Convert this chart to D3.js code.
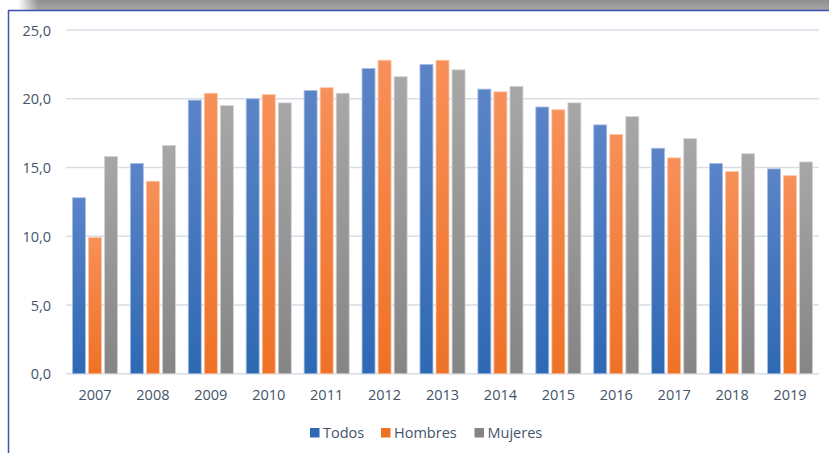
<!DOCTYPE html>
<html>
<head>
<meta charset="utf-8">
<script src="https://cdn.jsdelivr.net/npm/d3@7"></script>
<style>
  body { margin: 0; background: #fff; }
  svg { display: block; }
  text { font-family: "Open Sans", sans-serif; fill: #44546a; }
</style>
</head>
<body>
<svg id="chart"></svg>
<script>
// Data
const years = ['2007', '2008', '2009', '2010', '2011', '2012', '2013', '2014', '2015', '2016', '2017', '2018', '2019'];
const series = ['Todos', 'Hombres', 'Mujeres'];
const todos = [12.8, 15.3, 19.9, 20.0, 20.6, 22.2, 22.5, 20.7, 19.4, 18.1, 16.4, 15.3, 14.9];
const hombres = [9.9, 14.0, 20.4, 20.3, 20.8, 22.8, 22.8, 20.5, 19.2, 17.4, 15.7, 14.7, 14.4];
const mujeres = [15.8, 16.6, 19.5, 19.7, 20.4, 21.6, 22.1, 20.9, 19.7, 18.7, 17.1, 16.0, 15.4];
const yTicks = [0, 5, 10, 15, 20, 25];

const values = { Todos: todos, Hombres: hombres, Mujeres: mujeres };
const colors = {
  Todos: { top: '#5b84c7', bottom: '#2e69b3', edge: '#a9c0e6' },
  Hombres: { top: '#f79059', bottom: '#ee7226', edge: '#fbc4a4' },
  Mujeres: { top: '#a7a7a7', bottom: '#858585', edge: '#d2d2d2' }
};

const W = 829, H = 453;
const svg = d3.select('#chart').attr('width', W).attr('height', H);
const defs = svg.append('defs');

// Frame: grey band on top with a fade at the left, blue border
const band = defs.append('linearGradient').attr('id', 'band')
  .attr('x1', 0).attr('y1', 0).attr('x2', 0).attr('y2', 1);
band.append('stop').attr('offset', 0).attr('stop-color', '#8e8e8e');
band.append('stop').attr('offset', 1).attr('stop-color', '#a6a6a6');
const fade = defs.append('linearGradient').attr('id', 'fade')
  .attr('x1', 0).attr('y1', 0).attr('x2', 1).attr('y2', 0);
fade.append('stop').attr('offset', 0).attr('stop-color', '#fff').attr('stop-opacity', 1);
fade.append('stop').attr('offset', 1).attr('stop-color', '#fff').attr('stop-opacity', 0);

svg.append('rect').attr('x', 0).attr('y', 0).attr('width', W).attr('height', 10).attr('fill', 'url(#band)');
svg.append('rect').attr('x', 0).attr('y', 0).attr('width', 18).attr('height', 10).attr('fill', '#fff');
svg.append('rect').attr('x', 18).attr('y', 0).attr('width', 20).attr('height', 10).attr('fill', 'url(#fade)');
svg.append('line').attr('x1', 8).attr('x2', W).attr('y1', 10.5).attr('y2', 10.5)
  .attr('stroke', '#3f51b0').attr('stroke-width', 1.5);
svg.append('line').attr('x1', 8.5).attr('x2', 8.5).attr('y1', 10).attr('y2', H)
  .attr('stroke', '#3f51b0').attr('stroke-width', 1.5);

// Scales
const x = d3.scaleBand().domain(years).range([66, 819]);
const xs = d3.scaleBand().domain(series).range([0, x.bandwidth()])
  .paddingInner(0.19).paddingOuter(0.4);
const y = d3.scaleLinear().domain([0, 25]).range([373.75, 30]);

// Gridlines
svg.append('g').selectAll('line').data(yTicks).join('line')
  .attr('x1', 66).attr('x2', 819)
  .attr('y1', d => y(d)).attr('y2', d => y(d))
  .attr('stroke', '#d9dee6').attr('stroke-width', 1.5);

// Y axis labels
const yAxis = svg.append('g').attr('transform', 'translate(51,0)')
  .call(d3.axisLeft(y).tickValues(yTicks).tickSize(0).tickPadding(0)
    .tickFormat(d => d3.format('.1f')(d).replace('.', ',')));
yAxis.select('.domain').remove();
yAxis.selectAll('text').attr('font-size', 14.5).attr('font-family', '"Open Sans", sans-serif')
  .attr('fill', '#44546a').attr('dy', '0.35em');

// X axis labels
const xAxis = svg.append('g').attr('transform', 'translate(0,374)')
  .call(d3.axisBottom(x).tickSize(0).tickPadding(0));
xAxis.select('.domain').remove();
xAxis.selectAll('text').attr('font-size', 14.5).attr('font-family', '"Open Sans", sans-serif')
  .attr('fill', '#44546a').attr('y', 21).attr('dy', '0.35em');

// Gradients per series
series.forEach(s => {
  const g = defs.append('linearGradient').attr('id', 'grad-' + s)
    .attr('x1', 0).attr('y1', 0).attr('x2', 0).attr('y2', 1);
  g.append('stop').attr('offset', 0).attr('stop-color', colors[s].top);
  g.append('stop').attr('offset', 1).attr('stop-color', colors[s].bottom);
});

// Bars
const groups = svg.append('g').selectAll('g').data(years).join('g')
  .attr('transform', d => `translate(${x(d)},0)`);
groups.selectAll('rect')
  .data((yr, i) => series.map(s => ({ s, v: values[s][i] })))
  .join('rect')
  .attr('x', d => xs(d.s))
  .attr('width', xs.bandwidth())
  .attr('y', d => y(d.v))
  .attr('height', d => y(0) - y(d.v))
  .attr('fill', d => `url(#grad-${d.s})`)
  .attr('stroke', d => colors[d.s].edge)
  .attr('stroke-width', 0.8);

// Legend
const legendItems = [
  { s: 'Todos', x: 310 },
  { s: 'Hombres', x: 381 },
  { s: 'Mujeres', x: 474.5 }
];
const legend = svg.append('g');
legend.selectAll('rect').data(legendItems).join('rect')
  .attr('x', d => d.x).attr('y', 428).attr('width', 9.5).attr('height', 9.5)
  .attr('fill', d => colors[d.s].bottom);
legend.selectAll('text').data(legendItems).join('text')
  .attr('x', d => d.x + 13).attr('y', 433).attr('dy', '0.35em')
  .attr('font-size', 14.5)
  .text(d => d.s);
</script>
</body>
</html>
